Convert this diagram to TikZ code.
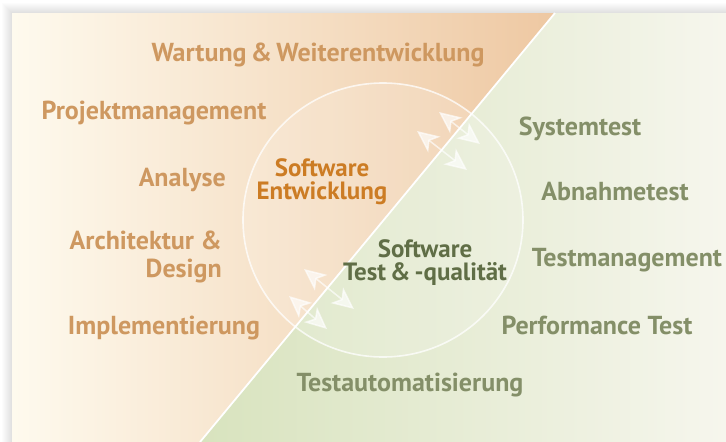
\documentclass[tikz,border=0pt]{standalone}
\usepackage{fontspec}
\setmainfont{PT Sans}
\usetikzlibrary{arrows.meta}
\definecolor{creamL}{RGB}{254,250,238}
\definecolor{peachR}{RGB}{238,200,162}
\definecolor{greenL}{RGB}{216,227,190}
\definecolor{greenR}{RGB}{246,246,237}
\definecolor{devtxt}{RGB}{206,152,96}
\definecolor{devcore}{RGB}{204,124,36}
\definecolor{qatxt}{RGB}{132,143,104}
\definecolor{qacore}{RGB}{96,110,70}
\tikzset{
  topic/.style={inner sep=0pt, font=\fontsize{26}{28}\selectfont\bfseries},
  devtopic/.style={topic, text=devtxt},
  qatopic/.style={topic, text=qatxt},
  core/.style={topic, align=center, font=\fontsize{25}{23}\selectfont\bfseries},
  xarrow/.style={white, opacity=0.65, line width=1.5pt,
    >={Stealth[length=22pt, width=20pt, inset=6pt]}, <->}
}
\begin{document}
\begin{tikzpicture}[x=1pt, y=-1pt]
  \useasboundingbox (0,0) rectangle (726,442);
  \fill[white] (0,0) rectangle (726,442);
  % shadow round the panel
  \foreach \s in {1,...,10}
    \fill[black, opacity=0.012] (12-\s,13-\s) rectangle (726,442);

  % corner points of the two halves
  \coordinate (topcut) at (555,13);
  \coordinate (botcut) at (200,442);
  \coordinate (ctr) at (383,220);

  \begin{scope}
    \clip (12,13) -- (topcut) -- (botcut) -- (12,442) -- cycle;
    \shade[left color=creamL, right color=peachR] (12,13) rectangle (555,442);
  \end{scope}
  \begin{scope}
    \clip (topcut) -- (726,13) -- (726,442) -- (botcut) -- cycle;
    \shade[left color=greenL, right color=greenR] (200,13) rectangle (726,442);
  \end{scope}

  % circle and diagonal
  \fill[white, opacity=0.15] (ctr) circle [x radius=140pt, y radius=137pt];
  \draw[white, opacity=0.75, line width=1.6pt] (ctr) circle [x radius=140pt, y radius=137pt];
  \draw[white, line width=1.8pt] (topcut) -- (botcut);

  % exchange arrows
  \coordinate (a1) at (439,112); \coordinate (b1) at (480,144);
  \coordinate (a2) at (417,131); \coordinate (b2) at (467,170);
  \coordinate (a3) at (304,269); \coordinate (b3) at (354,309);
  \coordinate (a4) at (289,296); \coordinate (b4) at (327,329);
  \draw[xarrow] (a1) -- (b1);
  \draw[xarrow] (a2) -- (b2);
  \draw[xarrow] (a3) -- (b3);
  \draw[xarrow] (a4) -- (b4);

  % development side
  \node (wartung) [devtopic] at (318,55) {Wartung\,\&\,Weiterentwicklung};
  \node (projekt) [devtopic] at (154,113) {Projektmanagement};
  \node (analyse) [devtopic, anchor=east] at (226,180) {Analyse};
  \node (archi) [devtopic, anchor=east, align=right] at (222,257) {Architektur \&\\Design};
  \node (impl) [devtopic] at (164,328) {Implementierung};
  \node (dev) [core, text=devcore] at (322,182) {Software\\Entwicklung};

  % test side
  \node (qa) [core, text=qacore] at (425,263) {Software\\Test\,\&\,-qualität};
  \node (system) [qatopic] at (580,129) {Systemtest};
  \node (abnahme) [qatopic] at (615,192) {Abnahmetest};
  \node (testmgmt) [qatopic] at (627,260) {Testmanagement};
  \node (perf) [qatopic] at (597,325) {Performance Test};
  \node (autom) [qatopic] at (410,385) {Testautomatisierung};
\end{tikzpicture}
\end{document}
